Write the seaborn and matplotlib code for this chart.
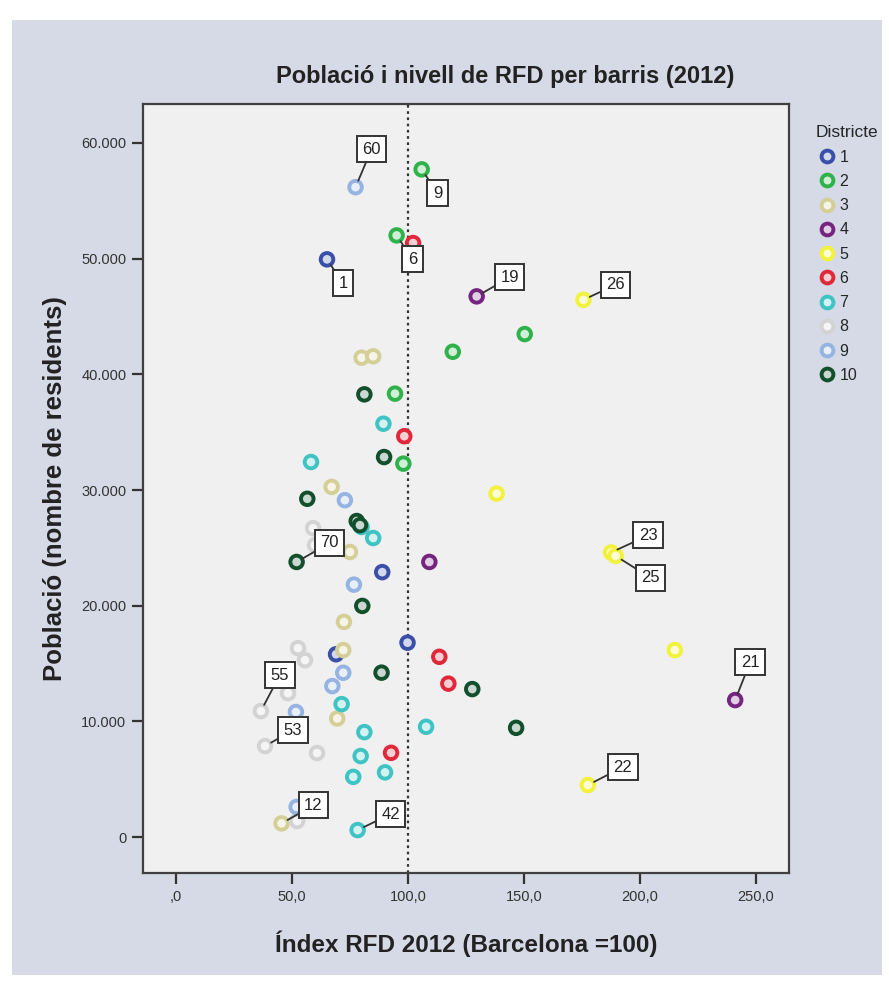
import numpy as np
import pandas as pd
import matplotlib.pyplot as plt
import matplotlib.colors as mcolors
from matplotlib.lines import Line2D
from matplotlib.patches import Rectangle
import seaborn as sns

# Index RFD (Barcelona = 100) and population of each barri, per district
d1_rfd = [65.1, 88.9, 99.8, 69.0]
d1_pob = [49940, 22900, 16800, 15800]
d2_rfd = [105.9, 95.1, 150.3, 119.3, 94.4, 98.0]
d2_pob = [57720, 52010, 43480, 41950, 38330, 32280]
d3_rfd = [80.0, 85.0, 67.1, 75.0, 72.4, 72.1, 69.5, 45.5]
d3_pob = [41440, 41560, 30270, 24640, 18600, 16160, 10250, 1180]
d4_rfd = [129.6, 109.2, 241.0]
d4_pob = [46740, 23780, 11840]
d5_rfd = [175.6, 138.2, 187.5, 189.5, 215.0, 177.5]
d5_pob = [46440, 29690, 24600, 24300, 16160, 4490]
d6_rfd = [102.2, 98.4, 113.5, 117.4, 92.7]
d6_pob = [51350, 34650, 15580, 13260, 7280]
d7_rfd = [89.4, 58.2, 85.0, 80.0, 71.4, 81.2, 107.8, 79.6, 90.1, 76.4, 78.3]
d7_pob = [35730, 32420, 25850, 26800, 11490, 9070, 9530, 7000, 5590, 5200, 600]
d8_rfd = [59.1, 59.9, 52.6, 55.6, 48.3, 36.6, 38.4, 60.8, 52.2]
d8_pob = [26700, 25230, 16330, 15290, 12440, 10890, 7860, 7260, 1380]
d9_rfd = [77.4, 72.8, 76.7, 72.1, 67.4, 51.7, 52.0]
d9_pob = [56180, 29120, 21820, 14200, 13050, 10810, 2600]
d10_rfd = [81.2, 89.7, 56.6, 77.9, 79.3, 52.0, 80.3, 88.6, 127.7, 146.6]
d10_pob = [38270, 32850, 29240, 27320, 26960, 23780, 19980, 14210, 12790, 9440]

# barri numbers shown as labels ("" = no label)
d1_lab = ["1", "", "", ""]
d2_lab = ["9", "6", "", "", "", ""]
d3_lab = ["", "", "", "", "", "", "", "12"]
d4_lab = ["19", "", "21"]
d5_lab = ["26", "", "23", "25", "", "22"]
d6_lab = ["", "", "", "", ""]
d7_lab = ["", "", "", "", "", "", "", "", "", "", "42"]
d8_lab = ["", "", "", "", "", "55", "53", "", ""]
d9_lab = ["60", "", "", "", "", "", ""]
d10_lab = ["", "", "", "", "", "70", "", "", "", ""]

x_ticks = [0, 50, 100, 150, 200, 250]
x_tick_labels = [",0", "50,0", "100,0", "150,0", "200,0", "250,0"]
y_ticks = [0, 10000, 20000, 30000, 40000, 50000, 60000]
y_tick_labels = ["0", "10.000", "20.000", "30.000", "40.000", "50.000", "60.000"]

districtes = ["1", "2", "3", "4", "5", "6", "7", "8", "9", "10"]
colors = ["#3a4fa8", "#2fb24a", "#d4cf96", "#76257f", "#f2f23c",
          "#e0283a", "#3fc3c3", "#d3d3d3", "#95b4e2", "#124f2c"]

# build the table
all_rfd = [d1_rfd, d2_rfd, d3_rfd, d4_rfd, d5_rfd, d6_rfd, d7_rfd, d8_rfd, d9_rfd, d10_rfd]
all_pob = [d1_pob, d2_pob, d3_pob, d4_pob, d5_pob, d6_pob, d7_pob, d8_pob, d9_pob, d10_pob]
all_lab = [d1_lab, d2_lab, d3_lab, d4_lab, d5_lab, d6_lab, d7_lab, d8_lab, d9_lab, d10_lab]
frames = []
for d, r, p, l in zip(districtes, all_rfd, all_pob, all_lab):
    frames.append(pd.DataFrame({"rfd": r, "pob": p, "barri": l, "Districte": d}))
df = pd.concat(frames, ignore_index=True)

palette = dict(zip(districtes, colors))

def light(c, f=0.78):
    rgb = np.array(mcolors.to_rgb(c))
    return tuple(rgb + (1 - rgb) * f)

sns.set_style("white")
plt.rcParams["font.family"] = ["Liberation Sans", "DejaVu Sans"]

fig = plt.figure(figsize=(8.89, 9.81), dpi=100)
fig.patch.set_facecolor("white")
fig.patches.append(Rectangle((12 / 889, 1 - 975 / 981), 870 / 889, 955 / 981,
                             transform=fig.transFigure, facecolor="#d5dae6",
                             edgecolor="none", zorder=-10))

# plot frame: x 143..789, y 104..873 (pixels)
ax = fig.add_axes([143 / 889, 1 - 873 / 981, 646 / 889, 769 / 981])
ax.set_facecolor("#f0f0f0")

sns.scatterplot(data=df, x="rfd", y="pob", hue="Districte", palette=palette,
                hue_order=districtes, s=82, marker="o", legend=False, ax=ax, zorder=3)

# turn the filled dots into rings
pts = ax.collections[0]
fc = pts.get_facecolors()
pts.set_edgecolors(fc)
pts.set_facecolors([light(c[:3]) for c in fc])
pts.set_linewidths(2.8)

ax.axvline(100, color="#333333", linestyle=(0, (1.2, 1.6)), linewidth=1.6, zorder=2)

# barri labels
offsets = {"60": (16, 38), "9": (16, -24), "1": (16, -24), "6": (16, -24),
           "19": (33, 19), "26": (32, 15), "70": (33, 19), "23": (37, 17),
           "25": (35, -22), "21": (15, 38), "55": (19, 36), "53": (28, 16),
           "12": (32, 18), "42": (33, 16), "22": (35, 18)}
for _, row in df[df["barri"] != ""].iterrows():
    ax.annotate(row["barri"], xy=(row["rfd"], row["pob"]),
                xytext=offsets[row["barri"]], textcoords="offset pixels",
                ha="center", va="center", fontsize=12, color="#222222", zorder=5,
                bbox=dict(boxstyle="square,pad=0.33", fc="white", ec="#333333", lw=1.4),
                arrowprops=dict(arrowstyle="-", color="#333333", lw=1.3,
                                shrinkA=0, shrinkB=5))

ax.set_xlim(-14.2, 264.2)
ax.set_ylim(-3110, 63370)
ax.set_xticks(x_ticks)
ax.set_xticklabels(x_tick_labels)
ax.set_yticks(y_ticks)
ax.set_yticklabels(y_tick_labels)
ax.tick_params(axis="both", direction="out", length=8, width=1.6, color="#333333",
               labelsize=10.5, labelcolor="#333333", bottom=True, left=True, pad=4)
for s in ax.spines.values():
    s.set_color("#404040")
    s.set_linewidth(1.6)

ax.set_xlabel("Índex RFD 2012 (Barcelona =100)", fontsize=17.5, fontweight="bold",
              color="#222222", labelpad=19)
ax.set_ylabel("Població (nombre de residents)", fontsize=18.5, fontweight="bold",
              color="#222222", labelpad=10)
fig.text(505 / 889, 1 - 76 / 981, "Població i nivell de RFD per barris (2012)",
         ha="center", va="center", fontsize=17, fontweight="bold", color="#222222")

# legend
handles = [Line2D([], [], linestyle="none", marker="o", markersize=8.5,
                  markerfacecolor=light(c), markeredgecolor=c, markeredgewidth=2.8)
           for c in colors]
leg = fig.legend(handles, districtes, title="Districte", loc="upper left",
                 bbox_to_anchor=(801 / 889, 1 - 111 / 981), frameon=False,
                 fontsize=11.5, title_fontsize=12.5, handletextpad=0.1,
                 labelspacing=0.58, handlelength=1.4, alignment="left")

plt.savefig("out.png", dpi=100, facecolor=fig.get_facecolor())
